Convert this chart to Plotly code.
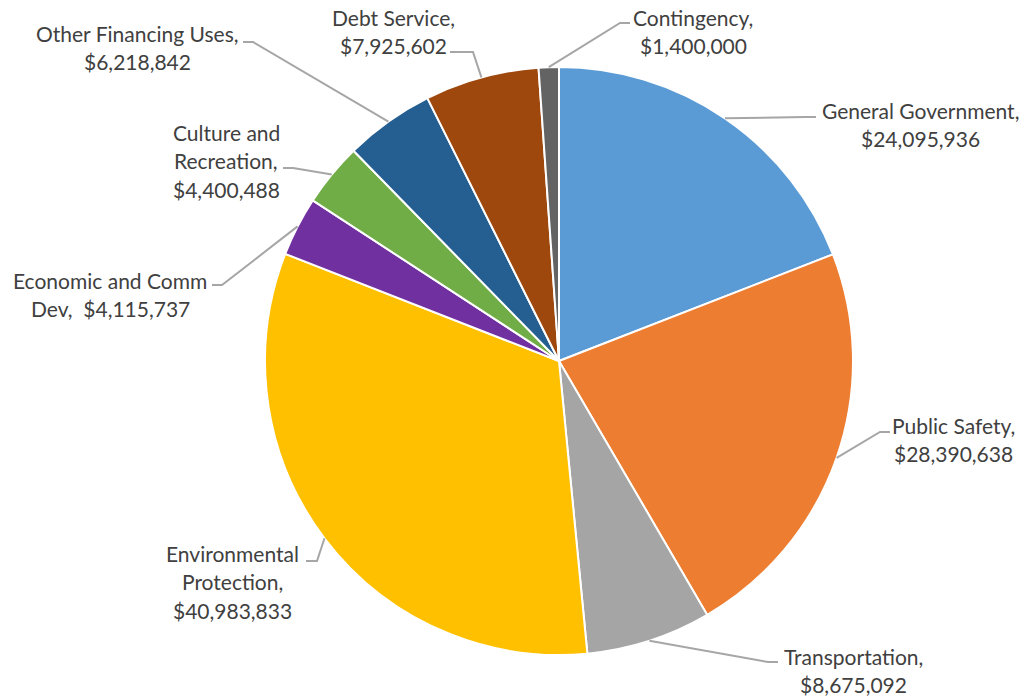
import math
import plotly.graph_objects as go

# Budget categories (clockwise from 12 o'clock) and their amounts
categories = [
    "General Government", "Public Safety", "Transportation",
    "Environmental Protection", "Economic and Comm Dev",
    "Culture and Recreation", "Other Financing Uses", "Debt Service",
    "Contingency",
]
amounts = [24095936, 28390638, 8675092, 40983833, 4115737,
           4400488, 6218842, 7925602, 1400000]

# Wrapped label text: category words for each line, value appended after
label_lines = [
    ["General Government,"],
    ["Public Safety,"],
    ["Transportation,"],
    ["Environmental", "Protection,"],
    ["Economic and Comm"],
    ["Culture and", "Recreation,"],
    ["Other Financing Uses,"],
    ["Debt Service,"],
    ["Contingency,"],
]

colors = ["#5B9BD5", "#ED7D31", "#A5A5A5", "#FFC000", "#7030A0",
          "#70AD47", "#255E91", "#9E480E", "#636363"]

W, H = 1023, 698
CX, CY, R = 559, 361, 294
LINE_H = 28.7
FONT = dict(family="Lato, sans-serif", size=21, color="#404040")
LEADER = "#A6A6A6"

# Label block placement: centre x, first-line y, leader elbow and end points
label_layout = [
    dict(cx=920, y=110, elbow=(805, 117), end=(816, 117)),
    dict(cx=953, y=425, elbow=(880, 432), end=(890, 432)),
    dict(cx=853, y=656, elbow=(768, 662), end=(778, 662)),
    dict(cx=232, y=553, elbow=(317, 561), end=(306, 561)),
    dict(cx=110, y=280, elbow=(222, 285), end=(212, 285)),
    dict(cx=226, y=132, elbow=(293, 168), end=(283, 168)),
    dict(cx=137, y=33, elbow=(253, 42), end=(243, 42)),
    dict(cx=393, y=17, elbow=(473, 52), end=(450, 52)),
    dict(cx=693, y=17, elbow=(620, 23), end=(630, 23)),
]


def money(v):
    return "${:,.0f}".format(v)


fig = go.Figure()
fig.add_trace(go.Pie(
    labels=categories,
    values=amounts,
    sort=False,
    direction="clockwise",
    rotation=0,
    textinfo="none",
    marker=dict(colors=colors, line=dict(color="white", width=2)),
    showlegend=False,
    domain=dict(x=[(CX - R) / W, (CX + R) / W],
                y=[(H - CY - R) / H, (H - CY + R) / H]),
    hovertemplate="%{label}: %{value:$,.0f}<extra></extra>",
))

total = sum(amounts)
cum = 0.0
shapes, annotations = [], []
for i, v in enumerate(amounts):
    mid = (cum + v / 2) / total * 360.0
    cum += v
    t = math.radians(mid)
    sx, sy = CX + R * math.sin(t), CY - R * math.cos(t)
    lay = label_layout[i]
    ex, ey = lay["elbow"]
    fx, fy = lay["end"]
    shapes.append(dict(
        type="path", xref="x", yref="y",
        path=f"M {sx:.1f} {sy:.1f} L {ex} {ey} L {fx} {fy}",
        line=dict(color=LEADER, width=2),
    ))
    lines = list(label_lines[i])
    if categories[i] == "Economic and Comm Dev":
        lines.append("Dev,  " + money(v))
    else:
        lines.append(money(v))
    for k, txt in enumerate(lines):
        annotations.append(dict(
            x=lay["cx"], y=lay["y"] + k * LINE_H, xref="x", yref="y",
            text=txt, showarrow=False, xanchor="center", yanchor="middle",
            font=FONT,
        ))

fig.update_layout(
    width=W, height=H,
    margin=dict(l=0, r=0, t=0, b=0),
    paper_bgcolor="white", plot_bgcolor="white",
    xaxis=dict(range=[0, W], visible=False, domain=[0, 1], fixedrange=True),
    yaxis=dict(range=[H, 0], visible=False, domain=[0, 1], fixedrange=True),
    shapes=shapes,
    annotations=annotations,
)

fig.write_html("out.html")
